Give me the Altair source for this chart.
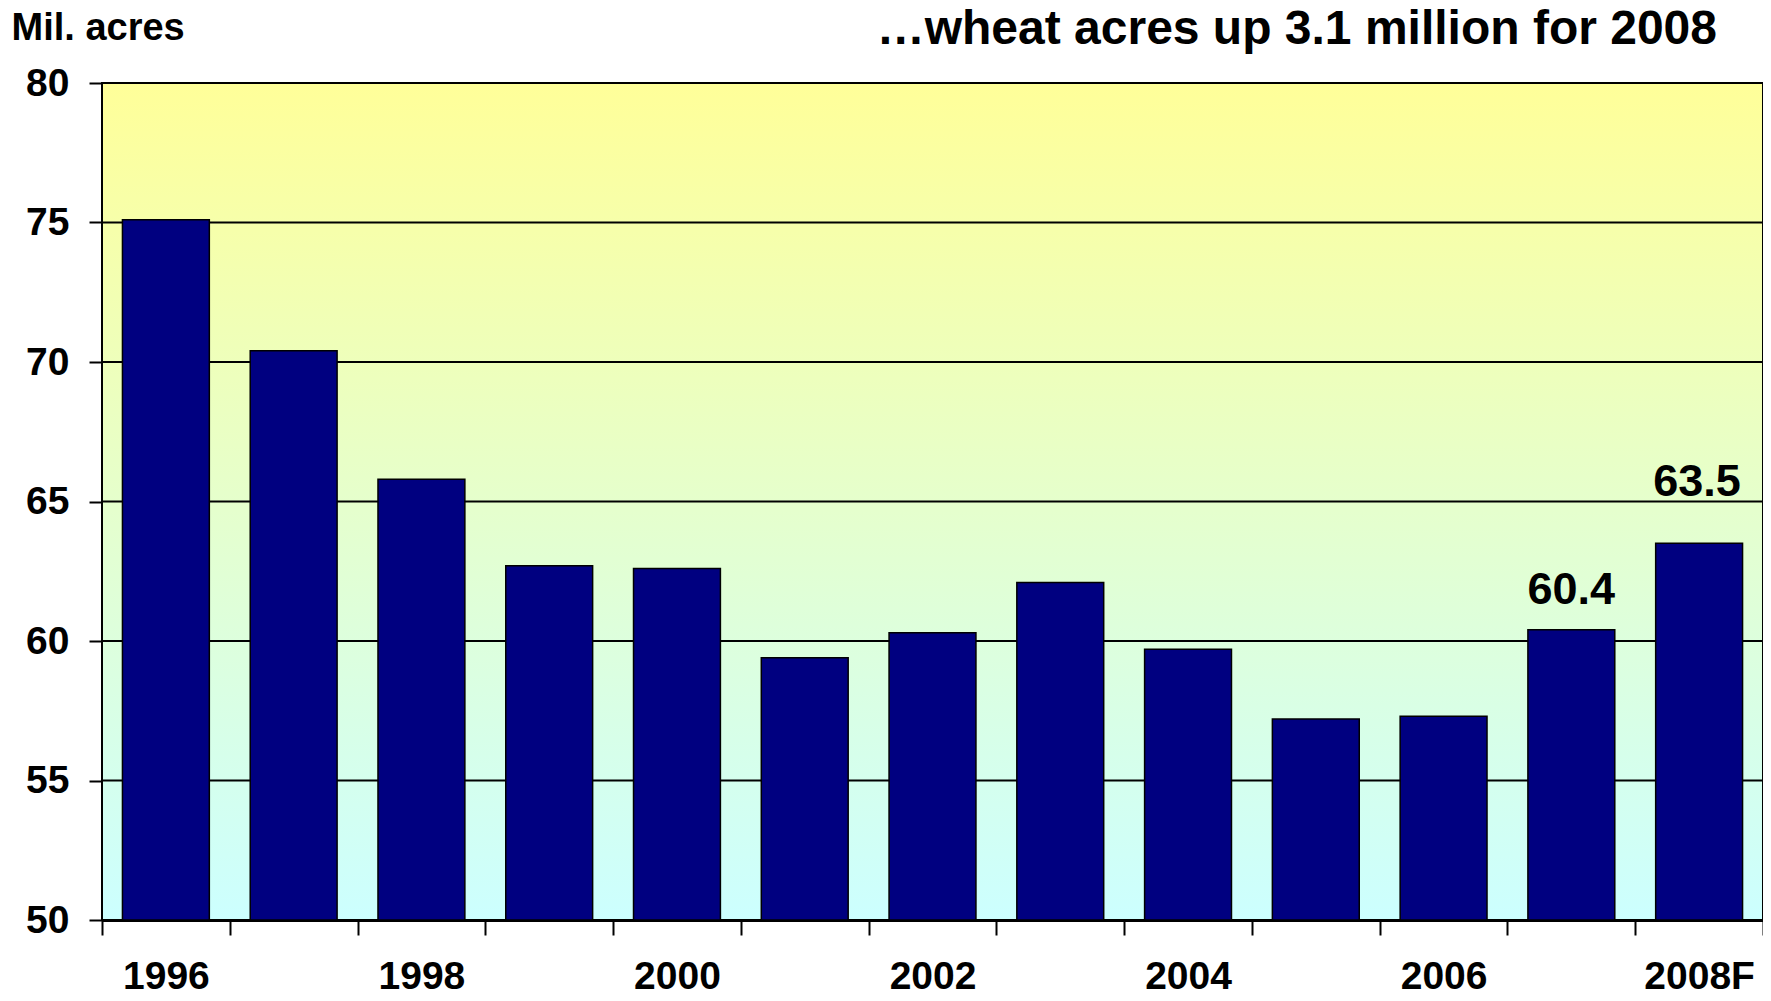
import altair as alt
import pandas as pd

# ---- data ----
years = ["1996", "1997", "1998", "1999", "2000", "2001", "2002",
         "2003", "2004", "2005", "2006", "2007", "2008F"]
acres = [75.1, 70.4, 65.8, 62.7, 62.6, 59.4, 60.3, 62.1, 59.7, 57.2, 57.3, 60.4, 63.5]
shown_year_labels = ["1996", "1998", "2000", "2002", "2004", "2006", "2008F"]
y_ticks = [50, 55, 60, 65, 70, 75, 80]
grid_values = [55, 60, 65, 70, 75, 80]
label_years_near = ["2007"]
label_years_far = ["2008F"]
title_text = "\u2026wheat acres up 3.1 million for 2008"
y_title = "Mil. acres"

W, H = 1661, 837
FONT = "Liberation Sans, Arial, Helvetica, sans-serif"

df = pd.DataFrame({"year": years, "acres": acres})
df["label"] = [f"{v:.1f}" for v in acres]

y_scale = alt.Scale(domain=[y_ticks[0], y_ticks[-1]], zero=False, nice=False)
x_scale = alt.Scale(paddingInner=0, paddingOuter=0)

label_expr = ("indexof([" + ",".join(f"'{s}'" for s in shown_year_labels) +
              "], datum.value) >= 0 ? datum.label : ''")

x_enc = alt.X("year:N", sort=years, scale=x_scale,
              axis=alt.Axis(title=None, labelExpr=label_expr, labelAngle=0,
                            tickBand="extent", tickSize=15, tickWidth=2,
                            tickColor="black", domainColor="black", domainWidth=3,
                            labelFont=FONT, labelFontSize=39, labelFontWeight="bold",
                            labelColor="black", labelPadding=22, grid=False))
y_enc = alt.Y("acres:Q", scale=y_scale,
              axis=alt.Axis(title=y_title, values=y_ticks, tickSize=13, tickWidth=2,
                            tickColor="black", domainColor="black", domainWidth=2.5,
                            labelFont=FONT, labelFontSize=39, labelFontWeight="bold",
                            labelColor="black", labelPadding=20, grid=False,
                            titleAngle=0, titleAlign="left", titleBaseline="alphabetic",
                            titleX=-91, titleY=-44, titleFont=FONT, titleFontSize=38,
                            titleFontWeight="bold", titleColor="black"))

gradient = alt.LinearGradient(
    gradient="linear", x1=0, x2=0, y1=0, y2=1,
    stops=[alt.GradientStop(offset=0, color="#FFFF99"),
           alt.GradientStop(offset=1, color="#CCFFFF")])

background = alt.Chart(alt.Data(values=[{"a": 1}])).mark_rect(
    fill=gradient, stroke="black", strokeWidth=2
).encode(x=alt.value(0), x2=alt.value(W), y=alt.value(0), y2=alt.value(H))

grid = alt.Chart(pd.DataFrame({"v": grid_values})).mark_rule(
    color="black", strokeWidth=1.8
).encode(y=alt.Y("v:Q", scale=y_scale))

bars = alt.Chart(df).mark_bar(
    color="#000080", stroke="black", strokeWidth=1.5,
    width=alt.RelativeBandSize(0.68)
).encode(x=x_enc, y=y_enc, y2=alt.datum(y_ticks[0]))

text_near = alt.Chart(df).transform_filter(
    alt.FieldOneOfPredicate(field="year", oneOf=label_years_near)
).mark_text(font=FONT, fontSize=45, fontWeight="bold", color="black",
            baseline="alphabetic", dy=-26
).encode(x=alt.X("year:N", sort=years, scale=x_scale),
         y=alt.Y("acres:Q", scale=y_scale), text="label:N")

text_far = alt.Chart(df).transform_filter(
    alt.FieldOneOfPredicate(field="year", oneOf=label_years_far)
).mark_text(font=FONT, fontSize=45, fontWeight="bold", color="black",
            baseline="alphabetic", dy=-47, dx=-2
).encode(x=alt.X("year:N", sort=years, scale=x_scale),
         y=alt.Y("acres:Q", scale=y_scale), text="label:N")

chart = alt.layer(background, grid, bars, text_near, text_far).properties(
    width=W, height=H,
    autosize=alt.AutoSizeParams(type="none"),
    padding={"left": 94, "top": 75, "right": 0, "bottom": 73},
    title=alt.TitleParams(text=title_text, anchor="end", frame="group",
                          font=FONT, fontSize=48, fontWeight="bold", color="black",
                          baseline="alphabetic", dx=-46, dy=83, offset=0),
).configure_view(stroke=None)

chart.save("out.html", embed_options={"renderer": "svg", "actions": False})
